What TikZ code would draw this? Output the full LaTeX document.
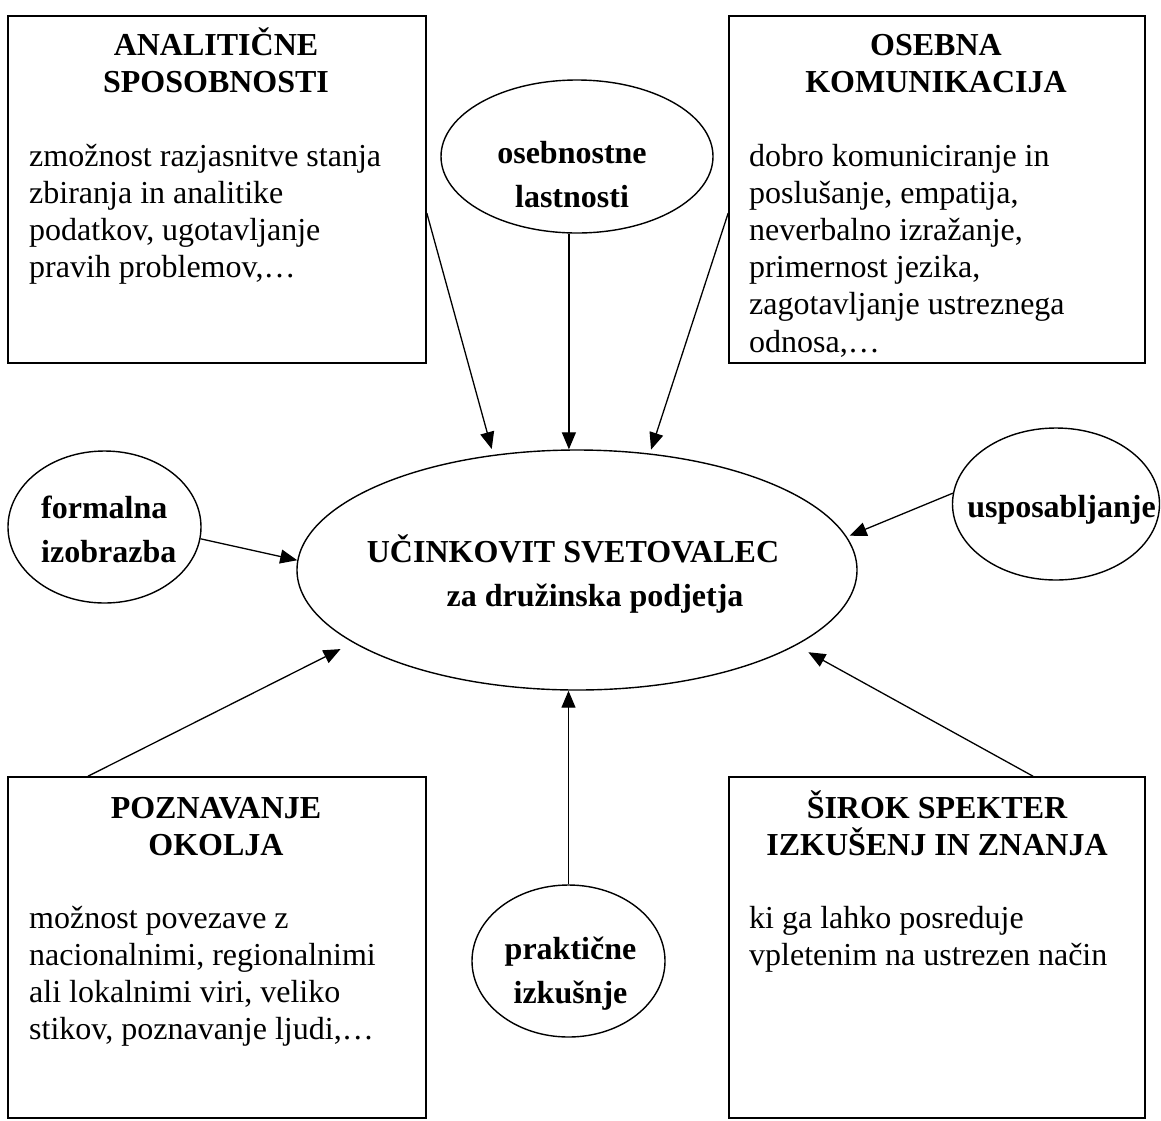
\documentclass[tikz,border=0pt]{standalone}
\usepackage{fontspec}
\setmainfont{Liberation Serif}
\usetikzlibrary{arrows.meta,shapes.geometric}

% stacked lines: first baseline is the node's baseline
\newcommand\linesC[1]{\vtop{\halign{\hfil##\hfil\cr#1\crcr}}}
\newcommand\linesL[1]{\vtop{\halign{##\hfil\cr#1\crcr}}}

\begin{document}
\begin{tikzpicture}[x=1pt,y=-1pt,
  box/.style={draw, line width=1.6pt, rectangle, inner sep=0pt},
  oval/.style={draw, line width=1.4pt, ellipse, inner sep=0pt},
  body/.style={anchor=base west, inner sep=0pt, font=\fontsize{32}{37.2}\selectfont},
  head/.style={anchor=base, inner sep=0pt, font=\fontsize{32}{37.5}\selectfont\bfseries},
  olabel/.style={inner sep=0pt, font=\fontsize{32}{44}\selectfont\bfseries},
  link/.style={line width=1.3pt, -{Triangle[length=17pt,width=14pt]}}]

\path[fill=white] (0,0) rectangle (1161,1120);
\useasboundingbox (0,0) rectangle (1161,1120);

% ---- boxes ----
\node[box, minimum width=418pt, minimum height=347pt] (anal) at (217,189.5) {};
\node[box, minimum width=416pt, minimum height=347pt] (kom)  at (937,189.5) {};
\node[box, minimum width=418pt, minimum height=341pt] (pozn) at (217,947.5) {};
\node[box, minimum width=416pt, minimum height=341pt] (sirok) at (937,947.5) {};

\node[head] (anal-h) at (216,55) {\linesC{ANALITIČNE\cr SPOSOBNOSTI}};
\node[body] (anal-b) at (29,166) {\linesL{zmožnost razjasnitve stanja\cr zbiranja in analitike\cr podatkov, ugotavljanje\cr pravih problemov,…}};

\node[head] (kom-h) at (936,55) {\linesC{OSEBNA\cr KOMUNIKACIJA}};
\node[body] (kom-b) at (749,166) {\linesL{dobro komuniciranje in\cr poslušanje, empatija,\cr neverbalno izražanje,\cr primernost jezika,\cr zagotavljanje ustreznega\cr odnosa,…}};

\node[head] (pozn-h) at (216,818) {\linesC{POZNAVANJE\cr OKOLJA}};
\node[body] (pozn-b) at (29,928) {\linesL{možnost povezave z\cr nacionalnimi, regionalnimi\cr ali lokalnimi viri, veliko\cr stikov, poznavanje ljudi,…}};

\node[head] (sirok-h) at (937,818) {\linesC{ŠIROK SPEKTER\cr IZKUŠENJ IN ZNANJA}};
\node[body] (sirok-b) at (749,928) {\linesL{ki ga lahko posreduje\cr vpletenim na ustrezen način}};

% ---- ellipses ----
\node[oval, minimum width=560pt, minimum height=240pt] (cen) at (577,570) {};
\node[olabel, anchor=base] (cen-t1) at (573,562) {UČINKOVIT SVETOVALEC};
\node[olabel, anchor=base] (cen-t2) at (595,606) {za družinska podjetja};

\node[oval, minimum width=272pt, minimum height=153pt] (oseb) at (577,156.5) {};
\node[olabel, anchor=base] (oseb-t) at (572,163) {\linesC{osebnostne\cr lastnosti}};

\node[oval, minimum width=193pt, minimum height=152pt] (form) at (104.5,527) {};
\node[olabel, anchor=base west] (form-t) at (41,518) {\linesL{formalna\cr izobrazba}};

\node[oval, minimum width=207pt, minimum height=152pt] (usp) at (1056,504) {};
\node[olabel, anchor=base] (usp-t) at (1061.5,517) {usposabljanje};

\node[oval, minimum width=193pt, minimum height=152pt] (prak) at (568.5,961) {};
\node[olabel, anchor=base] (prak-t) at (570.5,959) {\linesC{praktične\cr izkušnje}};

% ---- connectors ----
\draw[link, shorten >=6pt] ([yshift=-23.5pt]anal.east) -- (cen.126.6);
\draw[link] (oseb.264) -- (oseb.264 |- cen.north);
\draw[link, shorten >=4pt] ([yshift=-23.5pt]kom.west) -- (cen.58.7);
\draw[link] (form.353.5) -- (cen.178);
\draw[link, shorten >=3pt] (usp.174.5) -- (cen.7.1);
\draw[link, shorten >=14pt] ([xshift=-129pt]pozn.north) -- (cen.198.4);
\draw[link] (prak.north) -- (prak.north |- cen.south);
\draw[link, shorten >=14pt] ([xshift=96pt]sirok.north) -- (cen.341.6);
\end{tikzpicture}
\end{document}
